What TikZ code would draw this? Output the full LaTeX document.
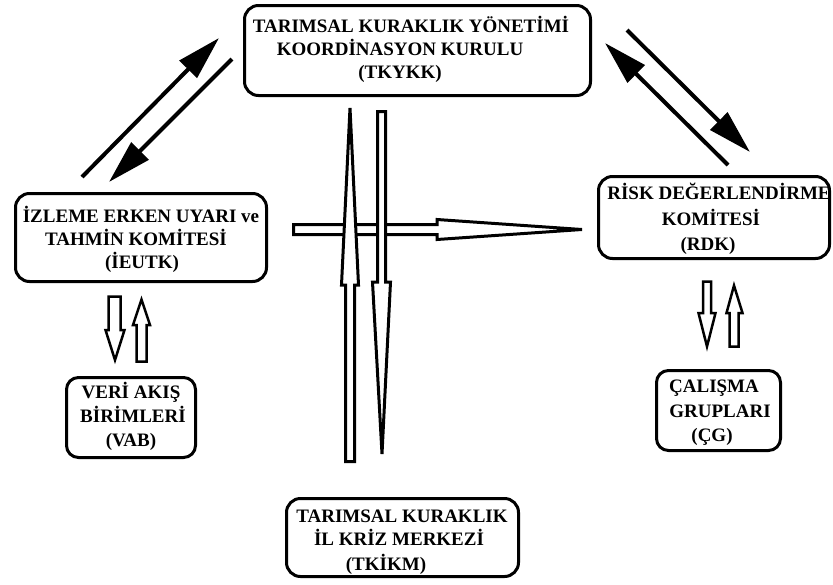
\documentclass[tikz,border=0pt]{standalone}
\usepackage{fontspec}
\setmainfont{Liberation Serif}
\usetikzlibrary{arrows.meta}
\begin{document}
\begin{tikzpicture}[x=1pt,y=-1pt,
  box/.style={draw=black, line width=3pt, rounded corners=14pt, fill=white, inner sep=0pt},
  lbl/.style={inner sep=0pt, anchor=base, font=\fontsize{19}{23}\selectfont\bfseries},
  diag/.style={line width=4pt, -{Triangle[length=44pt,width=24pt]}},
  blk/.style={draw=black, line width=3pt, fill=white, line join=miter},
  blks/.style={draw=black, line width=2.5pt, fill=white, line join=miter}]
\useasboundingbox (0,0) rectangle (833,584);

% boxes
\node[box, minimum width=346pt, minimum height=90pt] (tkykk) at (417.5,50.5) {};
\node[box, minimum width=251pt, minimum height=88pt] (ieutk) at (141,237.5) {};
\node[box, minimum width=231pt, minimum height=82pt] (rdk) at (714,217.5) {};
\node[box, rounded corners=12pt, minimum width=129pt, minimum height=80pt] (vab) at (131,417.5) {};
\node[box, rounded corners=12pt, minimum width=124pt, minimum height=80pt] (cg) at (718.5,410.5) {};
\node[box, minimum width=232pt, minimum height=78pt] (tkikm) at (402.5,537.5) {};

% texts
\node[lbl] (t1a) at (411,32) {TARIMSAL KURAKLIK YÖNETİMİ};
\node[lbl] (t1b) at (400,55) {KOORDİNASYON KURULU};
\node[lbl] (t1c) at (400,78) {(TKYKK)};

\node[lbl] (t2a) at (141,222) {İZLEME ERKEN UYARI ve};
\node[lbl] (t2b) at (136,245) {TAHMİN KOMİTESİ};
\node[lbl] (t2c) at (142,268) {(İEUTK)};

\node[lbl] (t3a) at (719,199) {RİSK DEĞERLENDİRME};
\node[lbl] (t3b) at (711,225) {KOMİTESİ};
\node[lbl] (t3c) at (708,250) {(RDK)};

\node[lbl] (t4a) at (131,398) {VERİ AKIŞ};
\node[lbl] (t4b) at (133,422) {BİRİMLERİ};
\node[lbl] (t4c) at (131,446) {(VAB)};

\node[lbl] (t5a) at (714,392) {ÇALIŞMA};
\node[lbl] (t5b) at (720,417) {GRUPLARI};
\node[lbl] (t5c) at (712,441) {(ÇG)};

\node[lbl] (t6a) at (402,522) {TARIMSAL KURAKLIK};
\node[lbl] (t6b) at (399,545) {İL KRİZ MERKEZİ};
\node[lbl] (t6c) at (386,570) {(TKİKM)};

% diagonal arrows
\coordinate (a1s) at (82,177);  \coordinate (a1e) at (219,38);
\coordinate (a2s) at (232,59);  \coordinate (a2e) at (109,182);
\coordinate (a3s) at (728,165); \coordinate (a3e) at (605,43);
\coordinate (a4s) at (627,30);  \coordinate (a4e) at (750,152);
\draw[diag] (a1s) -- (a1e);
\draw[diag] (a2s) -- (a2e);
\draw[diag] (a3s) -- (a3e);
\draw[diag] (a4s) -- (a4e);

% horizontal block arrow IEUTK -> RDK
\draw[blk] (293.5,224.5) -- (437,224.5) -- (437,219.5) -- (582,229.5)
  -- (437,239.5) -- (437,234.5) -- (293.5,234.5) -- cycle;

% vertical block arrows
\draw[blk] (345.5,461.5) -- (345.5,285) -- (341.5,285) -- (350,108)
  -- (358.5,285) -- (354.5,285) -- (354.5,461.5) -- cycle;
\draw[blk] (377.5,111.5) -- (385.5,111.5) -- (385.5,282) -- (390.5,282)
  -- (382,454) -- (372.5,282) -- (377.5,282) -- cycle;

% small block arrows left
\draw[blks] (108.5,296.5) -- (120.5,296.5) -- (120.5,330) -- (124.5,330)
  -- (115,360) -- (105.5,330) -- (108.5,330) -- cycle;
\draw[blks] (136.5,361.5) -- (136.5,325) -- (133,325) -- (141.5,299.5)
  -- (150,325) -- (146.5,325) -- (146.5,361.5) -- cycle;

% small block arrows right
\draw[blks] (703,281.5) -- (711,281.5) -- (711,313) -- (715.5,313)
  -- (707,346.5) -- (698.5,313) -- (703,313) -- cycle;
\draw[blks] (729.5,346.5) -- (729.5,313) -- (726.5,313) -- (734,285.5)
  -- (742.5,313) -- (738.5,313) -- (738.5,346.5) -- cycle;
\end{tikzpicture}
\end{document}
